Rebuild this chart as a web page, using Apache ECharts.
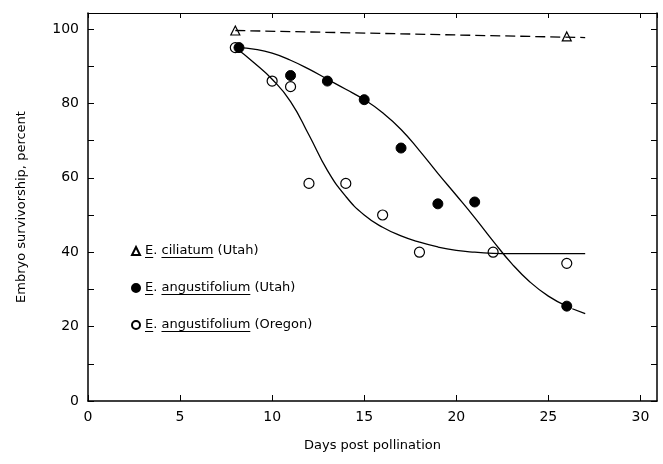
<!DOCTYPE html>
<html>
<head>
<meta charset="utf-8">
<script src="https://cdn.jsdelivr.net/npm/echarts@6/dist/echarts.min.js"></script>
<style>
html, body { margin: 0; padding: 0; background: #fff; }
#chart { width: 663px; height: 464px; }
</style>
</head>
<body>
<div id="chart"></div>
<script>
// measured points
var ciliatumDays = [8, 26];
var ciliatumPct = [99.6, 98];
var utahDays = [8.2, 11, 13, 15, 17, 19, 21, 26];
var utahPct = [95, 87.5, 86, 81, 68, 53, 53.5, 25.5];
var oregonDays = [8, 10, 11, 12, 14, 16, 18, 22, 26];
var oregonPct = [95, 86, 84.5, 58.5, 58.5, 50, 40, 40, 37];

// fitted curves as drawn (one per day)
var ciliatumFitDays = [8, 27];
var ciliatumFitPct = [99.6, 97.7];
var utahFitDays = [8.2, 9, 10, 11, 12, 13, 14, 15, 16, 17, 18, 19, 20, 21, 22, 23, 24, 25, 26];
var utahFitPct = [95, 94.6, 93.5, 91.6, 89.2, 86.5, 83.8, 81, 77.5, 73, 67.3, 61.2, 55.3, 49.3, 43, 37, 32, 28.2, 25.5];
var utahTailDays = [26.3, 27];
var utahTailPct = [24.8, 23.5];
var oregonFitDays = [8, 9, 10, 11, 12, 13, 14, 15, 16, 17, 18, 19, 20, 21, 22, 23, 24, 25, 26, 27];
var oregonFitPct = [95, 91, 86.5, 80.5, 71.5, 62, 55, 50, 46.7, 44.4, 42.7, 41.4, 40.5, 40, 39.7, 39.6, 39.6, 39.6, 39.6, 39.6];

function pairs(xs, ys) {
	var out = [];
	for (var i = 0; i < xs.length; i++) out.push([xs[i], ys[i]]);
	return out;
}

var lbl = '"DejaVu Sans", sans-serif';
var underline = {
	type : 'linear', x : 0, y : 0, x2 : 0, y2 : 1,
	colorStops : [
		{ offset : 0, color : 'rgba(0,0,0,0)' },
		{ offset : 0.9, color : 'rgba(0,0,0,0)' },
		{ offset : 0.9, color : '#000' },
		{ offset : 1, color : '#000' }
	]
};

var chart = echarts.init(document.getElementById('chart'));
var option = {
	backgroundColor : '#fff',
	animation : false,
	grid : { left : 88, right : 6, top : 13, bottom : 63 },
	legend : {
		orient : 'vertical',
		left : 126,
		top : 239,
		itemGap : 23,
		itemWidth : 8,
		itemHeight : 8,
		data : ['ciliatum', 'utah', 'oregon'],
		formatter : function(name) {
			if (name == 'ciliatum') return '{u|E}. {u|ciliatum} (Utah)';
			if (name == 'utah') return '{u|E}. {u|angustifolium} (Utah)';
			return '{u|E}. {u|angustifolium} (Oregon)';
		},
		textStyle : {
			fontFamily : lbl, fontSize : 13, color : '#000',
			rich : { u : { fontFamily : lbl, fontSize : 13, color : '#000', backgroundColor : underline, padding : [0, 0, 1, 0] } }
		}
	},
	xAxis : [{
		type : 'value', min : 0, max : 30.9, interval : 5,
		name : 'Days post pollination', nameLocation : 'middle', nameGap : 38,
		nameTextStyle : { fontFamily : lbl, fontSize : 13, color : '#000' },
		axisLine : { onZero : false, lineStyle : { color : '#000', width : 1.5 } },
		axisTick : { inside : true, length : 6, lineStyle : { color : '#000' } },
		axisLabel : { fontFamily : lbl, fontSize : 14, color : '#000', margin : 9, showMaxLabel : false },
		splitLine : { show : false }
	}, {
		type : 'value', min : 0, max : 30.9, interval : 5, position : 'top',
		axisLine : { onZero : false, lineStyle : { color : '#000', width : 1.2 } },
		axisTick : { inside : true, length : 5, lineStyle : { color : '#000' } },
		axisLabel : { show : false },
		splitLine : { show : false }
	}],
	yAxis : [{
		type : 'value', min : 0, max : 104.3, interval : 10,
		name : 'Embryo survivorship, percent', nameLocation : 'middle', nameGap : 60,
		nameTextStyle : { fontFamily : lbl, fontSize : 13, color : '#000' },
		axisLine : { show : true, onZero : false, lineStyle : { color : '#000', width : 1.5 } },
		axisTick : { inside : true, length : 6, lineStyle : { color : '#000' } },
		axisLabel : {
			fontFamily : lbl, fontSize : 14, color : '#000', margin : 9, showMaxLabel : false,
			formatter : function(v) { return v % 20 == 0 ? String(v) : ''; }
		},
		splitLine : { show : false }
	}, {
		type : 'value', min : 0, max : 104.3, interval : 10, position : 'right',
		axisLine : { show : true, onZero : false, lineStyle : { color : '#000', width : 1.5 } },
		axisTick : { inside : true, length : 6, lineStyle : { color : '#000' } },
		axisLabel : { show : false },
		splitLine : { show : false }
	}],
	series : [{
		type : 'line', data : pairs(ciliatumFitDays, ciliatumFitPct), showSymbol : false,
		lineStyle : { color : '#000', width : 1.3, type : [10, 5] }, silent : true
	}, {
		type : 'line', data : pairs(utahFitDays, utahFitPct), smooth : 0.5, showSymbol : false,
		lineStyle : { color : '#000', width : 1.3 }, silent : true
	}, {
		type : 'line', data : pairs(utahTailDays, utahTailPct), showSymbol : false,
		lineStyle : { color : '#000', width : 1.3 }, silent : true
	}, {
		type : 'line', data : pairs(oregonFitDays, oregonFitPct), smooth : 0.5, showSymbol : false,
		lineStyle : { color : '#000', width : 1.3 }, silent : true
	}, {
		name : 'ciliatum', type : 'scatter', data : pairs(ciliatumDays, ciliatumPct),
		symbol : 'triangle', symbolSize : 9,
		itemStyle : { color : '#fff', borderColor : '#000', borderWidth : 1.2, opacity : 1 }
	}, {
		name : 'oregon', type : 'scatter', data : pairs(oregonDays, oregonPct),
		symbol : 'circle', symbolSize : 10,
		itemStyle : { color : '#fff', borderColor : '#000', borderWidth : 1.2, opacity : 1 }
	}, {
		name : 'utah', type : 'scatter', data : pairs(utahDays, utahPct),
		symbol : 'circle', symbolSize : 10,
		itemStyle : { color : '#000', borderColor : '#000', borderWidth : 1, opacity : 1 }
	}]
};
chart.setOption(option);
</script>
</body>
</html>
